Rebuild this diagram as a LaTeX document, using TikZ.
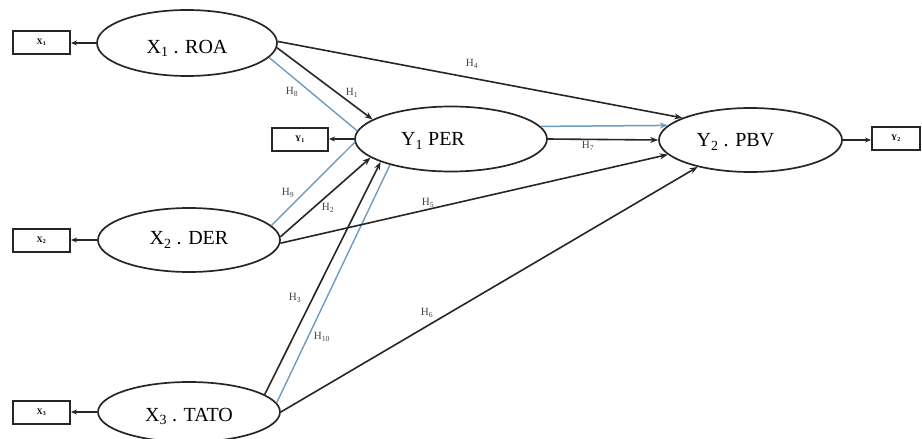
\documentclass[tikz,border=0pt]{standalone}
\usepackage{fontspec}
\setmainfont{Liberation Serif}
\usetikzlibrary{arrows.meta,shapes.geometric}
\definecolor{linec}{HTML}{262626}
\definecolor{medc}{HTML}{6E9BC2}
\definecolor{labc}{HTML}{454545}
\newcommand{\lowered}[2]{\raisebox{-#1}[\height][\depth]{#2}}

\begin{document}
\begin{tikzpicture}[x=1pt,y=-1pt,
  latent/.style={ellipse, draw=linec, line width=1.7pt, inner sep=0pt,
    font=\fontsize{20}{22}\selectfont},
  indic/.style={rectangle, draw=linec, line width=2pt, minimum width=57pt,
    minimum height=23pt, inner sep=0pt, font=\fontsize{8.5}{9}\selectfont\bfseries},
  direct/.style={draw=linec, line width=1.6pt, -{Stealth[length=8pt,width=6pt]}},
  loadarr/.style={draw=linec, line width=1.6pt, -{Stealth[length=6pt,width=5pt]}},
  mediate/.style={draw=medc, line width=1.4pt},
  mediatearr/.style={draw=medc, line width=1.5pt, -{Stealth[length=8pt,width=6pt]}},
  hyp/.style={text=labc, inner sep=0pt, font=\fontsize{11}{12}\selectfont}]

\useasboundingbox (0,0) rectangle (922,439);

% latent variables
\node[latent, minimum width=180pt, minimum height=66pt] (roa) at (187,43)
  {\lowered{5pt}{X\textsubscript{1} . ROA}};
\node[latent, minimum width=182pt, minimum height=64pt] (der) at (189,240)
  {X\textsubscript{2} . DER};
\node[latent, minimum width=182pt, minimum height=60pt] (tato) at (189,412)
  {\lowered{4pt}{X\textsubscript{3} . TATO}};
\node[latent, minimum width=192pt, minimum height=65pt] (per) at (451,139)
  {\lowered{2pt}{Y\textsubscript{1} PER}\hspace*{36pt}};
\node[latent, minimum width=183pt, minimum height=64pt] (pbv) at (750.5,140)
  {\lowered{2pt}{Y\textsubscript{2} . PBV}\hspace*{30pt}};

% indicators
\node[indic] (bx1) at (41.5,42) {X\textsubscript{1}};
\node[indic] (bx2) at (41.5,240.5) {X\textsubscript{2}};
\node[indic] (bx3) at (41.5,412.5) {X\textsubscript{3}};
\node[indic, minimum width=56pt] (by1) at (300,139) {Y\textsubscript{1}};
\node[indic, minimum width=48pt] (by2) at (896,138) {Y\textsubscript{2}};

\draw[loadarr] (roa.west) -- (roa.west -| bx1.east);
\draw[loadarr] (der.west) -- (der.west -| bx2.east);
\draw[loadarr] (tato.west) -- (tato.west -| bx3.east);
\draw[loadarr] (per.west) -- (per.west -| by1.east);
\draw[loadarr] (pbv.east) -- (pbv.east -| by2.west);

% mediated paths
\draw[mediate] (roa.-10) -- (per.175.5);
\draw[mediate] (der.10) -- (per.-178);
\draw[mediate] (tato.6.5) -- (per.203);
\draw[mediatearr] (per.8.4) -- (pbv.170.3);

% direct paths
\draw[direct] (roa.-3) -- (per.166);
\draw[direct] (roa.1) -- (pbv.162);
\draw[direct] (der.2.5) -- (per.193);
\draw[direct] (der.-2) -- (pbv.190);
\draw[direct] (tato.13) -- (per.198);
\draw[direct] (tato.0) -- (pbv.207);
\draw[direct] (per.east) -- (pbv.west);

% hypothesis labels
\node[hyp] (h1) at (352,93) {H\textsubscript{1}};
\node[hyp] (h2) at (328,208) {H\textsubscript{2}};
\node[hyp] (h3) at (295,298) {H\textsubscript{3}};
\node[hyp] (h4) at (472,64) {H\textsubscript{4}};
\node[hyp] (h5) at (428,203) {H\textsubscript{5}};
\node[hyp] (h6) at (427,313) {H\textsubscript{6}};
\node[hyp] (h7) at (588,146) {H\textsubscript{7}};
\node[hyp] (h8) at (292,92) {H\textsubscript{8}};
\node[hyp] (h9) at (288,193) {H\textsubscript{9}};
\node[hyp] (h10) at (322,337) {H\textsubscript{10}};
\end{tikzpicture}
\end{document}
